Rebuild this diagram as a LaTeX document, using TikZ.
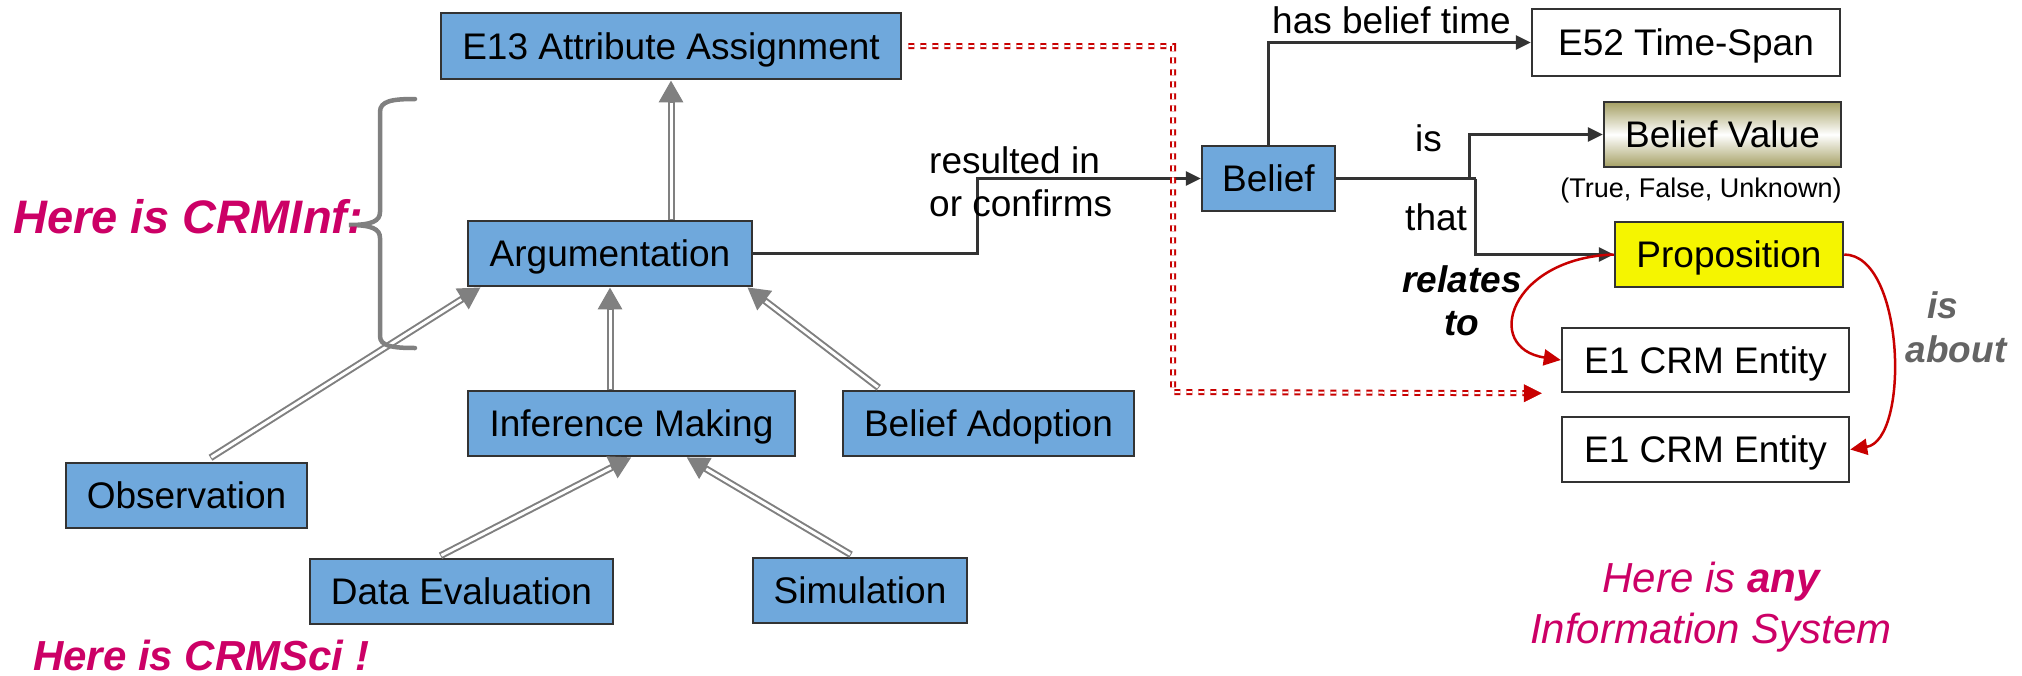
\documentclass[tikz,border=0pt]{standalone}
\usepackage{fontspec}
\setmainfont{Liberation Sans}
\usetikzlibrary{arrows.meta,calc}
\definecolor{boxblue}{RGB}{111,168,220}
\definecolor{boxline}{RGB}{51,51,51}
\definecolor{gengray}{RGB}{128,128,128}
\definecolor{linkdark}{RGB}{51,51,51}
\definecolor{pinktxt}{RGB}{204,0,102}
\definecolor{redline}{RGB}{200,0,0}
\definecolor{bvolive}{RGB}{165,160,100}
\definecolor{propyellow}{RGB}{245,245,0}
\definecolor{aboutgray}{RGB}{100,100,100}
\newcommand\mainsize{\fontsize{37}{44}\selectfont}
\begin{document}
\begin{tikzpicture}[x=1pt,y=-1pt,
  anybox/.style={draw=boxline, line width=2.5pt, font=\mainsize, inner sep=0pt, text height=26.5pt, text depth=0pt},
  clsbox/.style={anybox, fill=boxblue},
  wbox/.style={anybox, fill=white},
  lbl/.style={font=\mainsize, inner sep=0pt, anchor=base west},
  link/.style={draw=linkdark, line width=3pt, -{Triangle[width=14pt,length=15pt]}},
  genout/.style={draw=gengray, line width=7pt, -{Triangle[width=23pt,length=22pt]}},
  genin/.style={draw=white, line width=3pt, shorten >=23pt, shorten <=1pt},
  reddash/.style={draw=redline, line width=2pt, double=white, double distance=2pt, dash pattern=on 6pt off 6pt},
  redtip/.style={draw=redline, fill=redline, line width=0.5pt, -{Triangle[width=18pt,length=18pt]}},
  redcurve/.style={draw=redline, line width=2.5pt, -{Triangle[width=16pt,length=17pt]}},
  bracestyle/.style={draw=gengray, line width=4.5pt, line cap=round}
]
\useasboundingbox (0,0) rectangle (2022,675);

% class boxes
\node[clsbox, minimum width=460pt, minimum height=66pt] (e13) at (671,46) {E13 Attribute Assignment};
\node[clsbox, minimum width=284pt, minimum height=65pt] (arg) at (610,253.5) {Argumentation};
\node[clsbox, minimum width=133pt, minimum height=65pt] (belief) at (1268.5,178.5) {Belief};
\node[wbox, minimum width=308pt, minimum height=67pt] (e52) at (1686,42.5) {E52 Time-Span};
\node[anybox, top color=bvolive, bottom color=bvolive, middle color=white, minimum width=237pt, minimum height=65pt] (bval) at (1722.5,134.5) {Belief Value};
\node[anybox, fill=propyellow, minimum width=228pt, minimum height=65pt] (prop) at (1729,254.5) {Proposition};
\node[wbox, minimum width=287pt, minimum height=64pt] (ent1) at (1705.5,360) {E1 CRM Entity};
\node[wbox, minimum width=287pt, minimum height=65pt] (ent2) at (1705.5,449.5) {E1 CRM Entity};
\node[clsbox, minimum width=241pt, minimum height=65pt] (obs) at (186.5,495.5) {Observation};
\node[clsbox, minimum width=327pt, minimum height=65pt] (inf) at (631.5,423.5) {Inference Making};
\node[clsbox, minimum width=291pt, minimum height=65pt] (badopt) at (988.5,423.5) {Belief Adoption};
\node[clsbox, minimum width=303pt, minimum height=65pt] (deval) at (461.5,591.5) {Data Evaluation};
\node[clsbox, minimum width=214pt, minimum height=65pt] (sim) at (860,590.5) {Simulation};

% generalisation arrows (double gray lines)
\coordinate (g1s) at (e13.south |- arg.north);
\coordinate (g2s) at ($(obs.north)+(24,-4)$);
\coordinate (g2e) at ($(arg.south west)+(14,0)$);
\coordinate (g3s) at (arg.south |- inf.north);
\coordinate (g4s) at ($(badopt.north west)+(37,-2)$);
\coordinate (g4e) at ($(arg.south east)+(-6,0)$);
\coordinate (g5s) at ($(deval.north)+(-21,-2)$);
\coordinate (g6s) at ($(sim.north)+(-9,-2)$);
\coordinate (g6e) at ($(inf.south)+(55,0)$);
\foreach \s/\e in {g1s/e13.south, g2s/g2e, g3s/arg.south, g4s/g4e, g5s/inf.south, g6s/g6e}{
  \draw[genout] (\s) -- (\e);
  \draw[genin] (\s) -- (\e);
}

% brace
\draw[bracestyle] (415,99) .. controls (392,99) and (380,101) .. (380,112) -- (380,212)
  .. controls (380,221) and (372,225) .. (349,225)
  .. controls (372,225) and (380,229) .. (380,238) -- (380,336)
  .. controls (380,346) and (392,348) .. (415,348);

% dark links
\draw[link] (arg.east) -- (977,253.5) |- (belief.west);
\draw[link] (belief.north) |- (e52.west);
\draw[draw=linkdark, line width=3pt] (belief.east) -- (1476,178.5);
\draw[link] (1469,178.5) |- (bval.west);
\draw[link] (1475,178.5) |- (prop.west);

% red dashed link
\coordinate (rd0) at ($(e13.east)+(6,0)$);
\coordinate (rdt) at ($(ent1.south west)+(-19,0)$);
\draw[reddash] (rd0) -- (1173,46) -- (1173,392) -- ($(rdt)+(-16,0)$);
\draw[redtip] ($(rdt)+(-18,0)$) -- (rdt);

% red curves
\draw[redcurve] (prop.west) .. controls (1510,258) and (1482,348) .. (ent1.west);
\draw[redcurve] (prop.east) .. controls (1905,255) and (1910,440) .. (ent2.east);

% labels
\node[lbl] (rin) at (929,173) {resulted in};
\node[lbl] (orc) at (929,216) {or confirms};
\node[lbl] (hbt) at (1272,33) {has belief time};
\node[lbl] (lis) at (1415,151) {is};
\node[lbl] (lthat) at (1405,230) {that};
\node[font=\mainsize\bfseries\itshape, inner sep=0pt, anchor=base] (rel) at (1462,292) {relates};
\node[font=\mainsize\bfseries\itshape, inner sep=0pt, anchor=base] (rto) at (1462,335) {to};
\node[font=\fontsize{27}{32}\selectfont, inner sep=0pt, anchor=base] (tfu) at (1701,197) {(True, False, Unknown)};
\node[font=\mainsize\bfseries\itshape, text=aboutgray, inner sep=0pt, anchor=base] (abis) at (1943,318) {is};
\node[font=\mainsize\bfseries\itshape, text=aboutgray, inner sep=0pt, anchor=base] (abab) at (1956,362) {about};
\node[font=\fontsize{47}{56}\selectfont\bfseries\itshape, text=pinktxt, inner sep=0pt, anchor=base west] (crminf) at (13,233) {Here is CRMInf:};
\node[font=\fontsize{42}{50}\selectfont\bfseries\itshape, text=pinktxt, inner sep=0pt, anchor=base west] (crmsci) at (33,670) {Here is CRMSci !};
\node[font=\fontsize{42}{50}\selectfont\itshape, text=pinktxt, inner sep=0pt, anchor=base] (any1) at (1711,592) {Here is \textbf{any}};
\node[font=\fontsize{42}{50}\selectfont\itshape, text=pinktxt, inner sep=0pt, anchor=base] (any2) at (1711,643) {Information System};
\end{tikzpicture}
\end{document}
